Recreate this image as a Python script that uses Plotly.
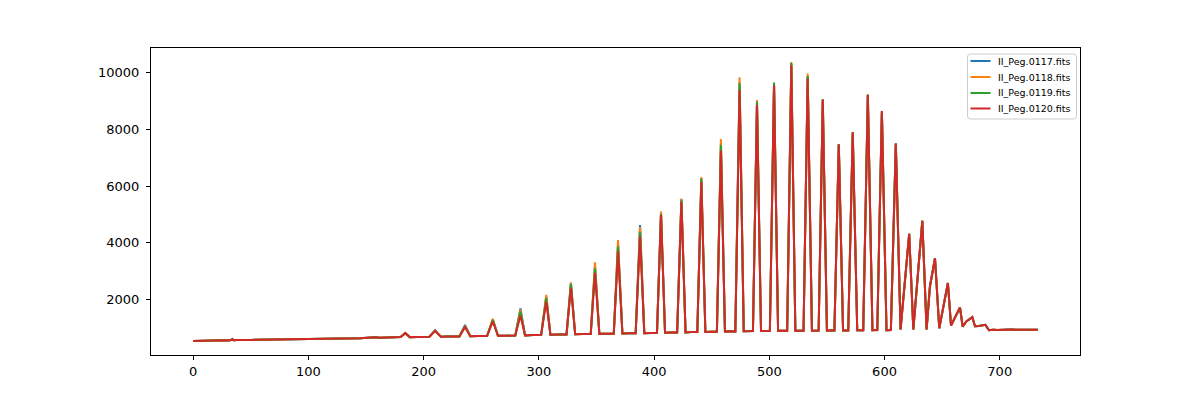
import plotly.graph_objects as go

# Common spectral profile (pixel column, counts), series II_Peg.0120
x_pts = [0, 3, 6, 9, 12, 15, 18, 21, 24, 27, 30, 33, 34, 35, 38, 42, 46, 50, 55, 60, 65, 70, 75, 80,
         85, 90, 95, 100, 105, 110, 115, 120, 125, 130, 135, 140, 145, 148, 152, 155, 158, 162, 166,
         170, 175, 180, 184, 188, 194, 200, 205, 209.9, 215, 220, 225, 231, 235.9, 240.5, 247, 255,
         260, 264.5, 272, 279.5, 284, 288, 295, 302, 306.4, 310, 317, 324, 327.8, 331.5, 338, 345,
         348.7, 352.5, 359, 365, 368.7, 372.5, 378, 384, 387.8, 391.5, 397, 402.5, 406, 409.5, 415,
         420, 423.7, 427.3, 432, 437.5, 441, 444.5, 450, 454.5, 458, 461.5, 466, 470.5, 474.2, 477.8,
         485.8, 489.3, 492.8, 500.5, 504.1, 507.6, 515.5, 519.1, 522.6, 529.7, 533.3, 537, 542.8, 546.4,
         550, 556.5, 560.3, 564, 568.5, 572.4, 576.3, 581.5, 585.5, 589.5, 593.7, 597.7, 601.7, 605.5,
         609.8, 613.9, 621.4, 625, 632.8, 636.5, 639.4, 643.8, 647.5, 651, 655, 657.7, 662, 665.5, 667.8,
         671, 676.2, 678.5, 682, 686, 687.5, 690.7, 694, 698, 702, 706, 710, 714, 718, 722, 726, 730, 733]
y_0120 = [555, 560, 552, 566, 560, 570, 563, 575, 572, 580, 574, 585, 618, 583, 590, 584, 593, 590, 598,
          600, 596, 606, 603, 610, 606, 616, 612, 625, 620, 630, 626, 635, 630, 640, 636, 645, 650, 660,
          672, 700, 688, 668, 675, 670, 682, 692, 830, 690, 698, 700, 705, 900, 700, 712, 708, 715, 1040,
          720, 732, 728, 1240, 735, 742, 745, 1440, 750, 762, 770, 1940, 775, 782, 785, 2420, 790, 796,
          800, 2940, 805, 812, 810, 3700, 815, 822, 825, 4220, 830, 836, 840, 4980, 845, 852, 850, 5450,
          855, 866, 870, 6150, 870, 878, 880, 7250, 885, 892, 890, 9370, 895, 900, 8850, 905, 910, 9540,
          910, 915, 10245, 915, 915, 9780, 915, 920, 9040, 920, 925, 7470, 925, 925, 7890, 930, 930, 9210,
          930, 935, 8630, 935, 940, 7490, 960, 4320, 960, 4780, 960, 2470, 3460, 1000, 1770, 2590, 1100,
          1470, 1730, 1060, 1240, 1390, 1070, 1080, 1110, 1120, 930, 950, 940, 955, 945, 960, 945, 950,
          940, 955, 945, 950]

# Peak tops where the other exposures differ
peak_x = [209.9, 235.9, 260, 284, 306.4, 327.8, 348.7, 368.7, 387.8, 406, 423.7, 441, 458,
          474.2, 489.3, 504.1, 519.1, 533.3]
top_0117 = [940, 1120, 1310, 1700, 2120, 2600, 3200, 3980, 4630, 5080, 5540, 6280, 7500,
            9650, 8950, 9560, 10290, 9850]
top_0118 = [920, 1080, 1330, 1650, 2175, 2610, 3320, 4100, 4560, 5100, 5560, 6320, 7650,
            9820, 9020, 9620, 10360, 9955]
top_0119 = [910, 1060, 1290, 1580, 2060, 2560, 3100, 3870, 4380, 5020, 5500, 6250, 7450,
            9600, 8960, 9640, 10320, 9870]

names = ["II_Peg.0117.fits", "II_Peg.0118.fits", "II_Peg.0119.fits", "II_Peg.0120.fits"]
colors = ["#1f77b4", "#ff7f0e", "#2ca02c", "#d62728"]


def with_tops(tops):
    y = list(y_0120)
    for px, t in zip(peak_x, tops):
        y[x_pts.index(px)] = t
    return y


series = [with_tops(top_0117), with_tops(top_0118), with_tops(top_0119), y_0120]

fig = go.Figure()
for name, col, y in zip(names, colors, series):
    fig.add_trace(go.Scatter(x=x_pts, y=y, mode="lines", name=name,
                             line=dict(color=col, width=2), showlegend=False))

x_lo, x_hi = 0, 733
y_lo, y_hi = min(min(s) for s in series), max(max(s) for s in series)
xm = 0.05 * (x_hi - x_lo)
ym = 0.05 * (y_hi - y_lo)

# plot area in screen pixels (page has an 8px body margin)
PL, PR, PT, PB = 151, 1080, 48, 355


def fx(px):
    return (px - PL) / (PR - PL)


def fy(py):
    return (PB - py) / (PB - PT)


# legend (matplotlib style), drawn with shapes and annotations
bx0, bx1, by0, by1, r = 967.5, 1076.5, 54, 119, 3
rx, ry = r / (PR - PL), r / (PB - PT)
X0, X1, Y0, Y1 = fx(bx0), fx(bx1), fy(by1), fy(by0)
path = (f"M {X0+rx},{Y0} L {X1-rx},{Y0} Q {X1},{Y0} {X1},{Y0+ry} L {X1},{Y1-ry} "
        f"Q {X1},{Y1} {X1-rx},{Y1} L {X0+rx},{Y1} Q {X0},{Y1} {X0},{Y1-ry} L {X0},{Y0+ry} "
        f"Q {X0},{Y0} {X0+rx},{Y0} Z")
shapes = [dict(type="path", xref="paper", yref="paper", path=path,
               fillcolor="rgba(255,255,255,0.8)", line=dict(color="#cccccc", width=1))]
annotations = []
rows = [61, 77, 93, 108.5]
for name, col, ry_ in zip(names, colors, rows):
    shapes.append(dict(type="line", xref="paper", yref="paper", x0=fx(970.5), x1=fx(990.5),
                       y0=fy(ry_), y1=fy(ry_), line=dict(color=col, width=2)))
    annotations.append(dict(xref="paper", yref="paper", x=fx(996), y=fy(ry_), text=name,
                            showarrow=False, xanchor="left", yanchor="middle",
                            font=dict(family="DejaVu Sans", size=9.5, color="black")))

axis_common = dict(showline=True, linecolor="black", linewidth=1, mirror=True,
                   ticks="outside", ticklen=4, tickcolor="black", showgrid=False,
                   zeroline=False, tickfont=dict(family="DejaVu Sans", size=13, color="black"))

fig.update_layout(
    width=1200, height=400,
    paper_bgcolor="white", plot_bgcolor="white",
    margin=dict(l=PL - 8, r=1208 - PR, t=PT - 8, b=408 - PB),
    xaxis=dict(range=[x_lo - xm, x_hi + xm], tickvals=[0, 100, 200, 300, 400, 500, 600, 700],
               ticktext=["0", "100", "200", "300", "400", "500", "600", "700"], **axis_common),
    yaxis=dict(range=[y_lo - ym, y_hi + ym], tickvals=[2000, 4000, 6000, 8000, 10000],
               ticktext=["2000", "4000", "6000", "8000", "10000"], ticklabelstandoff=4,
               **axis_common),
    shapes=shapes,
    annotations=annotations,
    showlegend=False,
)

fig.write_html("out.html")
